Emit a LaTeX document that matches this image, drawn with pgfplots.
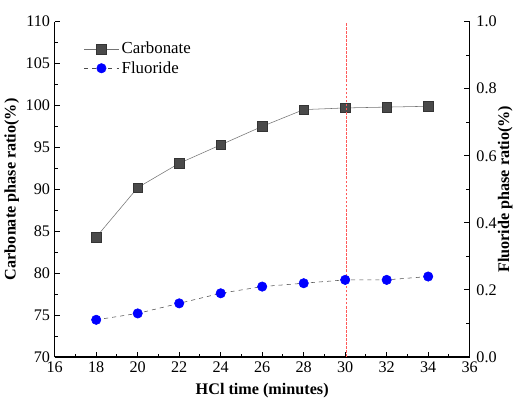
\documentclass[border=0pt]{standalone}
\usepackage{fontspec}
\setmainfont{Liberation Serif}
\usepackage{pgfplots}
\pgfplotsset{compat=1.18}
\definecolor{sqgray}{HTML}{4A4A4A}
\begin{document}
\begin{tikzpicture}
\pgfplotsset{
  mylegimg/.style={legend image code/.code={\draw[mark repeat=2,mark phase=2,##1] plot coordinates {(0cm,0cm) (0.45cm,0cm) (0.9cm,0cm)};}},
}
\begin{axis}[
  name=ax,
  scale only axis, width=308pt, height=249pt,
  xmin=16, xmax=36, ymin=70, ymax=110,
  axis x line=bottom, axis y line=left, axis line style={-, line width=0.8pt},
  tick align=inside, major tick length=4pt, minor tick length=2.5pt,
  xtick={16,18,...,36}, ytick={70,75,...,110},
  minor x tick num=1, minor y tick num=1,
  tick style={line width=0.7pt, black},
  /pgf/number format/assume math mode=true,
  ticklabel style={font=\fontsize{12}{14}\selectfont},
  xlabel={\textbf{HCl time (minutes)}},
  ylabel={\textbf{Carbonate phase ratio(\%)}},
  label style={font=\fontsize{12}{14}\selectfont},
  xlabel style={yshift=-1pt},
  ylabel style={yshift=-2pt},
  legend style={draw=none, fill=none, at={(0.06,0.955)}, anchor=north west, font=\fontsize{12.5}{14}\selectfont, row sep=0pt},
  legend cell align=left,
  mylegimg,
  clip=false,
]
\addplot[black!55, line width=0.4pt, mark=square*, mark size=3.5pt, mark options={solid, fill=sqgray, draw=sqgray!70!black}]
  coordinates {(18,84.3) (20,90.2) (22,93.1) (24,95.3) (26,97.5) (28,99.5) (30,99.7) (32,99.8) (34,99.9)};
\addlegendentry{Carbonate}
\addlegendimage{black!70, dashed, line width=0.4pt, mark=*, mark size=3.5pt, mark options={solid, fill=blue, draw=blue}}
\addlegendentry{Fluoride}
\end{axis}
\begin{axis}[
  scale only axis, width=308pt, height=249pt,
  xmin=16, xmax=36, ymin=0, ymax=1,
  hide x axis, axis y line=right, axis line style={-, line width=0.8pt},
  tick align=inside, major tick length=4pt, minor tick length=2.5pt,
  ytick={0,0.2,...,1.0}, minor y tick num=1,
  tick style={line width=0.7pt, black},
  yticklabel style={/pgf/number format/fixed, /pgf/number format/fixed zerofill, /pgf/number format/precision=1, xshift=1.5pt},
  /pgf/number format/assume math mode=true,
  ticklabel style={font=\fontsize{12}{14}\selectfont},
  ylabel={\textbf{Fluoride phase ratio(\%)}},
  label style={font=\fontsize{12}{14}\selectfont},
  ylabel style={yshift=6pt},
  clip=false,
]
\addplot[red!65, solid, dash pattern=on 2pt off 1pt, line width=0.8pt, mark=none] coordinates {(30.05,0) (30.05,1)};
\addplot[black!70, dashed, line width=0.4pt, mark=*, mark size=3.5pt, mark options={solid, fill=blue, draw=blue}]
  coordinates {(18,0.111) (20,0.130) (22,0.160) (24,0.190) (26,0.210) (28,0.220) (30,0.230) (32,0.230) (34,0.240)};
\end{axis}
\path (ax.north west) ++(0,16pt) coordinate (tp);
\path (tp) -- (tp);
\end{tikzpicture}
\end{document}
